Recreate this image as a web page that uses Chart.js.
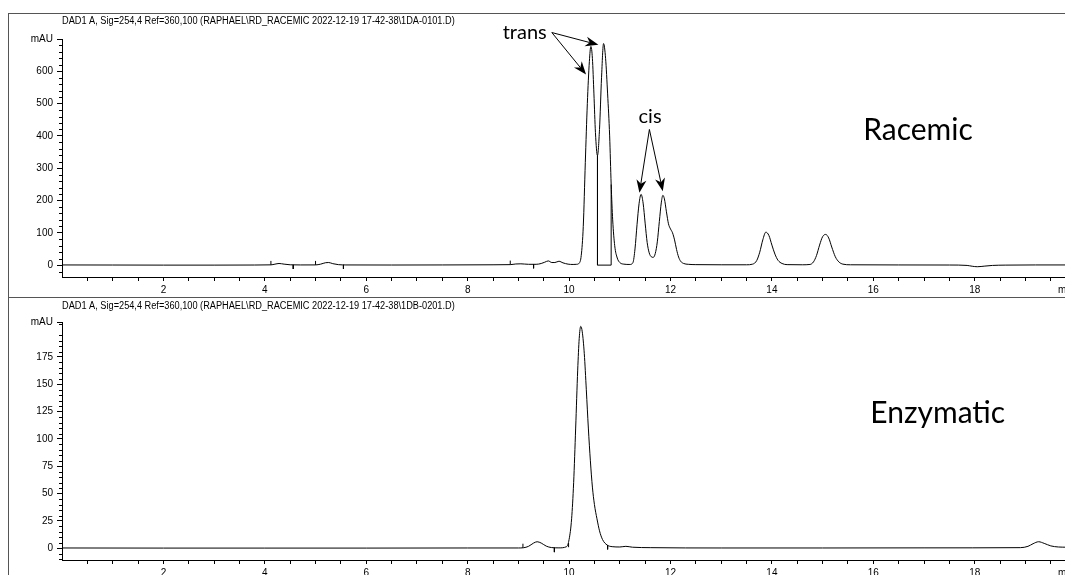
<!DOCTYPE html>
<html>
<head>
<meta charset="utf-8">
<title>DAD1 A chromatograms</title>
<script src="https://cdn.jsdelivr.net/npm/chart.js@4/dist/chart.umd.min.js"></script>
<style>
    html, body { margin: 0; padding: 0; background: #fff; }
    #wrap { position: relative; width: 1065px; height: 575px; overflow: hidden; }
    canvas { position: absolute; left: 0; }
    #racemic { top: 0; }
    #enzymatic { top: 297px; }
    #frame { position: absolute; left: 8px; top: 13px; right: 0; bottom: 0;
             border-left: 1px solid #555; border-top: 1px solid #555; }
    #divider { position: absolute; left: 8px; right: 0; top: 297px; border-top: 1px solid #555; }
</style>
</head>
<body>
<div id="wrap">
    <canvas id="racemic" width="1065" height="297"></canvas>
    <canvas id="enzymatic" width="1065" height="278"></canvas>
    <div id="frame"></div>
    <div id="divider"></div>
</div>
<script>
// retention time axis (min)
const timeLabels = [2, 4, 6, 8, 10, 12, 14, 16, 18];
const racemicTicks = [0, 100, 200, 300, 400, 500, 600];
const enzymaticTicks = [0, 25, 50, 75, 100, 125, 150, 175];

// [time (min), signal (mAU)]
const racemicTrace = [
    [0, 0.5], [1, 0.3], [2, 0], [3, 0], [3.8, 0.3], [4.12, 0.8], [4.2, 3], [4.28, 5], [4.38, 3],
    [4.5, 1], [4.7, 0.5], [5.0, 0.6], [5.1, 3], [5.2, 7.5], [5.26, 8], [5.34, 4.5], [5.45, 1.5],
    [5.6, 0.5], [6.5, 0.3], [7.5, 0.5], [8.5, 1], [8.84, 1.5], [8.95, 3.5], [9.05, 4], [9.2, 2.5],
    [9.35, 2.5], [9.45, 5], [9.52, 9], [9.59, 13], [9.66, 8], [9.72, 8], [9.8, 12], [9.88, 7],
    [9.98, 3], [10.08, 2], [10.15, 2.5], [10.2, 6], [10.24, 30], [10.28, 120], [10.32, 317],
    [10.36, 500], [10.4, 630], [10.43, 677], [10.46, 640], [10.49, 530], [10.52, 410], [10.56, 339],
    [10.6, 420], [10.64, 580], [10.68, 686], [10.72, 640], [10.76, 530], [10.8, 400], [10.83, 250],
    [10.86, 140], [10.9, 60], [10.95, 22], [11.0, 8], [11.08, 3], [11.2, 2], [11.26, 8], [11.3, 50],
    [11.34, 125], [11.38, 190], [11.42, 219], [11.46, 192], [11.5, 130], [11.54, 70], [11.58, 38],
    [11.62, 26], [11.66, 24], [11.7, 36], [11.74, 72], [11.78, 135], [11.82, 195], [11.85, 216],
    [11.88, 205], [11.92, 165], [11.96, 128], [12.0, 112], [12.04, 100], [12.08, 78], [12.12, 48],
    [12.16, 25], [12.2, 12], [12.26, 5], [12.35, 2.5], [12.5, 1.5], [13.0, 1], [13.5, 1], [13.62, 3],
    [13.7, 14], [13.76, 40], [13.82, 78], [13.88, 102], [13.94, 92], [14.0, 62], [14.06, 34],
    [14.12, 15], [14.2, 5], [14.3, 1.5], [14.6, 1], [14.75, 2], [14.82, 10], [14.88, 30], [14.94, 62],
    [15.0, 88], [15.06, 95], [15.12, 84], [15.18, 56], [15.25, 26], [15.32, 10], [15.4, 3],
    [15.55, 1], [16.5, 0.5], [17.5, 0.3], [17.85, -1], [17.95, -3.5], [18.05, -5], [18.2, -3],
    [18.35, -1], [18.6, 0], [19.2, 0.5], [19.8, 0.5]
];

const enzymaticTrace = [
    [0, 0.3], [2, 0.2], [4, 0.2], [6, 0.2], [8, 0.3], [9.0, 0.3], [9.1, 0.5], [9.2, 1.8], [9.3, 4.8],
    [9.37, 6], [9.45, 4.8], [9.55, 2], [9.65, 0.7], [9.8, 0.4], [9.95, 1.5], [10.0, 8], [10.05, 27],
    [10.09, 60], [10.13, 110], [10.17, 163], [10.2, 192], [10.23, 203], [10.26, 198], [10.3, 178],
    [10.34, 145], [10.38, 110], [10.42, 80], [10.46, 56], [10.5, 40], [10.55, 27], [10.6, 16],
    [10.66, 8], [10.75, 3], [10.85, 1.5], [11.0, 1.2], [11.12, 1.8], [11.25, 1], [11.6, 0.6],
    [13, 0.3], [15, 0.3], [17, 0.4], [18.9, 0.6], [19.05, 1.8], [19.15, 4.2], [19.26, 6],
    [19.37, 4.5], [19.5, 2.2], [19.65, 1.2], [19.8, 1]
];

// integration marks: peak start/end ticks and drop lines
const racemicMarks = [
    [[4.12, 0.8], [4.12, 13]], [[4.56, 0.8], [4.56, -12]],
    [[5.0, 0.6], [5.0, 13]], [[5.55, 0.8], [5.55, -12]],
    [[8.84, 1.5], [8.84, 14]], [[9.3, 2.5], [9.3, -10]],
    [[10.56, 339], [10.56, 0], [10.83, 0], [10.83, 250]]
];
const enzymaticMarks = [
    [[9.09, 0.4], [9.09, 4.2]], [[9.71, 0.5], [9.71, -3.5]],
    [[9.99, 1], [9.99, 4.8]], [[10.76, 3], [10.76, -1]]
];

const SANS = "'Liberation Sans', Arial, sans-serif";
const CALLOUT = "Lato, 'Open Sans', sans-serif";

function toPoints(pairs) {
    return pairs.map(p => ({ x: p[0], y: p[1] }));
}

// null point after every segment so the line breaks between marks
function segmentPoints(segs) {
    const out = [];
    segs.forEach(seg => {
        seg.forEach(p => out.push({ x: p[0], y: p[1] }));
        out.push({ x: seg[seg.length - 1][0], y: null });
    });
    return out;
}

function drawArrow(ctx, x0, y0, x1, y1) {
    const ang = Math.atan2(y1 - y0, x1 - x0);
    const len = 13, half = 5, notch = 9;
    ctx.beginPath();
    ctx.moveTo(x0, y0);
    ctx.lineTo(x1 - Math.cos(ang) * notch, y1 - Math.sin(ang) * notch);
    ctx.stroke();
    ctx.save();
    ctx.translate(x1, y1);
    ctx.rotate(ang);
    ctx.beginPath();
    ctx.moveTo(0, 0);
    ctx.lineTo(-len, -half);
    ctx.lineTo(-notch, 0);
    ctx.lineTo(-len, half);
    ctx.closePath();
    ctx.fill();
    ctx.restore();
}

const panelNotes = {
    id: 'panelNotes',
    afterDraw(chart, args, opts) {
        const { ctx, chartArea } = chart;
        const xs = chart.scales.x, ys = chart.scales.y;
        ctx.save();
        ctx.strokeStyle = '#000';
        ctx.fillStyle = '#000';
        ctx.lineWidth = 1;

        // short minor ticks on the signal axis
        ctx.beginPath();
        for (let v = opts.minorStep * Math.ceil(ys.min / opts.minorStep); v < ys.max; v += opts.minorStep) {
            if (v % opts.majorStep === 0) continue;
            const y = Math.round(ys.getPixelForValue(v)) + 0.5;
            ctx.moveTo(chartArea.left - 3, y);
            ctx.lineTo(chartArea.left, y);
        }
        ctx.stroke();

        // run header above the plot, condensed like the instrument printout
        ctx.font = '10px ' + SANS;
        ctx.textBaseline = 'middle';
        ctx.textAlign = 'left';
        ctx.save();
        ctx.translate(chartArea.left, opts.headerY);
        ctx.scale(0.92, 1);
        ctx.fillText(opts.header, 0, 0);
        ctx.restore();

        // time unit at the end of the axis
        ctx.textBaseline = 'top';
        ctx.fillText('min', chart.width - 7, chartArea.bottom + 8);

        (opts.labels || []).forEach(l => {
            ctx.font = l.size + 'px ' + CALLOUT;
            ctx.textBaseline = 'alphabetic';
            ctx.fillText(l.text, xs.getPixelForValue(l.t), ys.getPixelForValue(l.v));
        });
        (opts.arrows || []).forEach(a => {
            drawArrow(ctx, xs.getPixelForValue(a[0]), ys.getPixelForValue(a[1]),
                xs.getPixelForValue(a[2]), ys.getPixelForValue(a[3]));
        });
        ctx.restore();
    }
};

function buildPanel(canvasId, cfg) {
    const ctx = document.getElementById(canvasId).getContext('2d');
    return new Chart(ctx, {
        type: 'line',
        data: {
            datasets: [{
                data: toPoints(cfg.trace),
                borderColor: '#000',
                borderWidth: 1,
                pointRadius: 0,
                cubicInterpolationMode: 'monotone',
                fill: false
            }, {
                data: segmentPoints(cfg.marks),
                borderColor: '#000',
                borderWidth: 1,
                pointRadius: 0,
                tension: 0,
                spanGaps: false,
                fill: false
            }]
        },
        options: {
            responsive: false,
            animation: false,
            events: [],
            layout: { padding: { top: cfg.padTop, left: 0, right: 0, bottom: 0 } },
            plugins: {
                legend: { display: false },
                tooltip: { enabled: false },
                panelNotes: cfg.notes
            },
            scales: {
                x: {
                    type: 'linear',
                    min: 0,
                    max: 19.78,
                    afterBuildTicks: s => {
                        const t = [];
                        for (let v = 0.5; v < 19.6; v += 0.5) t.push({ value: v });
                        s.ticks = t;
                    },
                    afterFit: s => { s.height = cfg.xHeight; },
                    ticks: {
                        autoSkip: false,
                        maxRotation: 0,
                        padding: 3,
                        color: '#000',
                        font: { family: SANS, size: 10 },
                        callback: v => timeLabels.includes(v) ? String(v) : ''
                    },
                    grid: { drawOnChartArea: false, tickLength: 4, color: '#000' },
                    border: { color: '#000' }
                },
                y: {
                    min: cfg.yMin,
                    max: cfg.yMax,
                    afterBuildTicks: s => {
                        s.ticks = cfg.yTicks.map(v => ({ value: v })).concat([{ value: cfg.yMax }]);
                    },
                    afterFit: s => { s.width = 62; },
                    ticks: {
                        padding: 4,
                        color: '#000',
                        font: { family: SANS, size: 10 },
                        callback: v => v === cfg.yMax ? 'mAU' : String(v)
                    },
                    grid: { drawOnChartArea: false, tickLength: 5, color: '#000' },
                    border: { color: '#000' }
                }
            }
        },
        plugins: [panelNotes]
    });
}

buildPanel('racemic', {
    trace: racemicTrace,
    marks: racemicMarks,
    yTicks: racemicTicks,
    yMin: -36.8,
    yMax: 700,
    padTop: 39,
    xHeight: 20,
    notes: {
        header: 'DAD1 A, Sig=254,4 Ref=360,100 (RAPHAEL\\RD_RACEMIC 2022-12-19 17-42-38\\1DA-0101.D)',
        headerY: 21,
        minorStep: 20,
        majorStep: 100,
        labels: [
            { text: 'trans', t: 8.69, v: 699, size: 20 },
            { text: 'cis', t: 11.37, v: 440, size: 20 },
            { text: 'Racemic', t: 15.8, v: 386, size: 30 }
        ],
        arrows: [
            [9.66, 720, 10.335, 590],
            [9.66, 720, 10.578, 682],
            [11.584, 420, 11.387, 224],
            [11.584, 420, 11.848, 229]
        ]
    }
});

buildPanel('enzymatic', {
    trace: enzymaticTrace,
    marks: enzymaticMarks,
    yTicks: enzymaticTicks,
    yMin: -10.7,
    yMax: 207,
    padTop: 25,
    xHeight: 15,
    notes: {
        header: 'DAD1 A, Sig=254,4 Ref=360,100 (RAPHAEL\\RD_RACEMIC 2022-12-19 17-42-38\\1DB-0201.D)',
        headerY: 9,
        minorStep: 5,
        majorStep: 25,
        labels: [
            { text: 'Enzymatic', t: 15.94, v: 114.7, size: 30 }
        ],
        arrows: []
    }
});
</script>
</body>
</html>
